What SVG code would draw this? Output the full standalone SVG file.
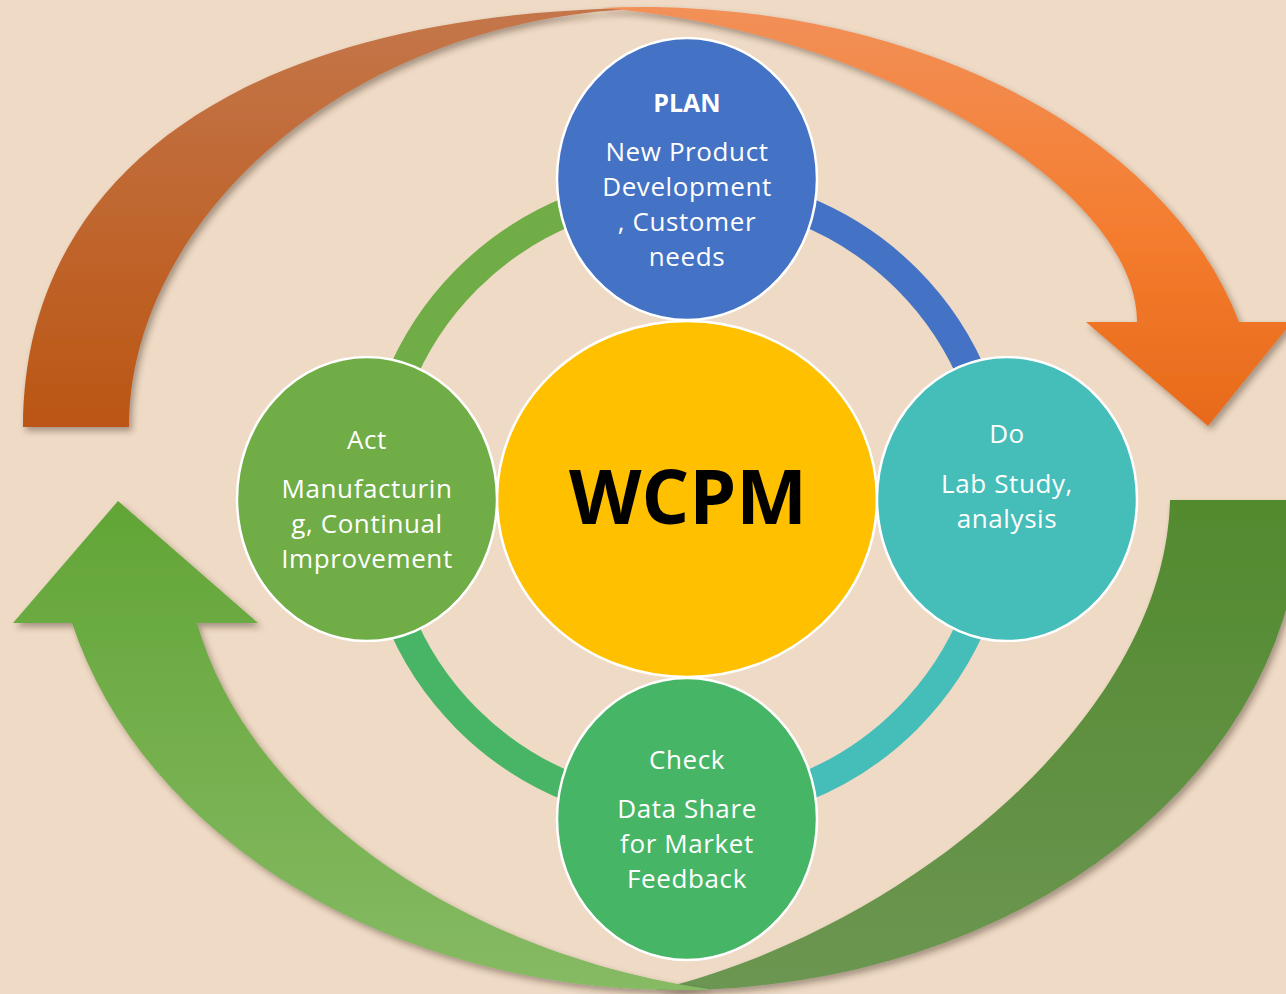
<svg xmlns="http://www.w3.org/2000/svg" width="1286" height="994" viewBox="0 0 1286 994">
<defs>
<style>
.t{font-family:"Open Sans","Noto Sans",sans-serif;fill:#fff;font-size:26px;letter-spacing:0.6px;text-anchor:middle}
.b{font-weight:bold;font-size:25px;letter-spacing:0}
.node{stroke:#fff;stroke-width:2.5}
.ring{fill:none;stroke-width:29}
</style>
<filter id="sh" x="-10%" y="-10%" width="130%" height="130%">
<feDropShadow dx="3" dy="4" stdDeviation="3" flood-color="#3a2a1a" flood-opacity="0.4"/>
</filter>
<linearGradient id="oBack" x1="0" y1="0" x2="0" y2="1">
<stop offset="0" stop-color="#C4764A"/><stop offset="1" stop-color="#BB5614"/>
</linearGradient>
<linearGradient id="oFront" x1="0" y1="0" x2="0" y2="1">
<stop offset="0" stop-color="#F29058"/><stop offset="0.55" stop-color="#F47C2E"/><stop offset="1" stop-color="#E76A1A"/>
</linearGradient>
<linearGradient id="gBack" x1="0" y1="0" x2="0" y2="1">
<stop offset="0" stop-color="#528A2E"/><stop offset="1" stop-color="#6C9652"/>
</linearGradient>
<linearGradient id="gFront" x1="0" y1="0" x2="0" y2="1">
<stop offset="0" stop-color="#62A536"/><stop offset="1" stop-color="#86BA64"/>
</linearGradient>
</defs>
<rect width="1286" height="994" fill="#EEDAC5"/>

<g id="connectors">
<g id="arrow-orange">
<path filter="url(#sh)" fill="url(#oBack)" d="M23,427 C23,170 250,7 660,8 C350,12 129,220 129,427 Z"/>
<path filter="url(#sh)" fill="url(#oFront)" d="M600,8 A617,420 0 0 1 1239,322 L1292,322 L1208,426 L1086,322 L1137,322 C1137,180 850,25 600,8 Z"/>
</g>
<g id="arrow-green">
<path filter="url(#sh)" fill="url(#gBack)" d="M1170,500 L1302,500 A626,490 0 0 1 676,990 L655,990 C900,932 1165,720 1170,500 Z"/>
<path filter="url(#sh)" fill="url(#gFront)" d="M708,990 L676,990 A626,490 0 0 1 72,623 L13,623 L118,501 L258,623 L197,623 C250,810 470,955 708,989 Z"/>
</g>
<g id="ring">
<path class="ring" stroke="#4472C4" d="M687,188 A311,311 0 0 1 998,499"/>
<path class="ring" stroke="#45BDB9" d="M998,499 A311,311 0 0 1 687,810"/>
<path class="ring" stroke="#47B565" d="M687,810 A311,311 0 0 1 376,499"/>
<path class="ring" stroke="#70AD47" d="M376,499 A311,311 0 0 1 687,188"/>
</g>
</g>

<g id="wcpm">
<ellipse class="node" cx="687" cy="499" rx="190" ry="178" fill="#FFC000"/>
<text x="688" y="524" style="font-family:'Open Sans','Noto Sans',sans-serif;font-weight:bold;font-size:75px;text-anchor:middle" fill="#000">WCPM</text>
</g>

<g id="plan">
<ellipse class="node" cx="687" cy="179" rx="130" ry="141" fill="#4472C4"/>
<text class="t b" x="687" y="112">PLAN</text>
<text class="t" x="687" y="161">New Product</text>
<text class="t" x="687" y="196">Development</text>
<text class="t" x="687" y="231">, Customer</text>
<text class="t" x="687" y="266">needs</text>
</g>

<g id="do">
<ellipse class="node" cx="1007" cy="499" rx="130" ry="142" fill="#45BDB9"/>
<text class="t" x="1007" y="443">Do</text>
<text class="t" x="1007" y="493">Lab Study,</text>
<text class="t" x="1007" y="528">analysis</text>
</g>

<g id="check">
<ellipse class="node" cx="687" cy="819" rx="130" ry="141" fill="#47B566"/>
<text class="t" x="687" y="769">Check</text>
<text class="t" x="687" y="818">Data Share</text>
<text class="t" x="687" y="853">for Market</text>
<text class="t" x="687" y="888">Feedback</text>
</g>

<g id="act">
<ellipse class="node" cx="367" cy="499" rx="130" ry="142" fill="#70AD47"/>
<text class="t" x="367" y="449">Act</text>
<text class="t" x="367" y="498">Manufacturin</text>
<text class="t" x="367" y="533">g, Continual</text>
<text class="t" x="367" y="568">Improvement</text>
</g>
</svg>
